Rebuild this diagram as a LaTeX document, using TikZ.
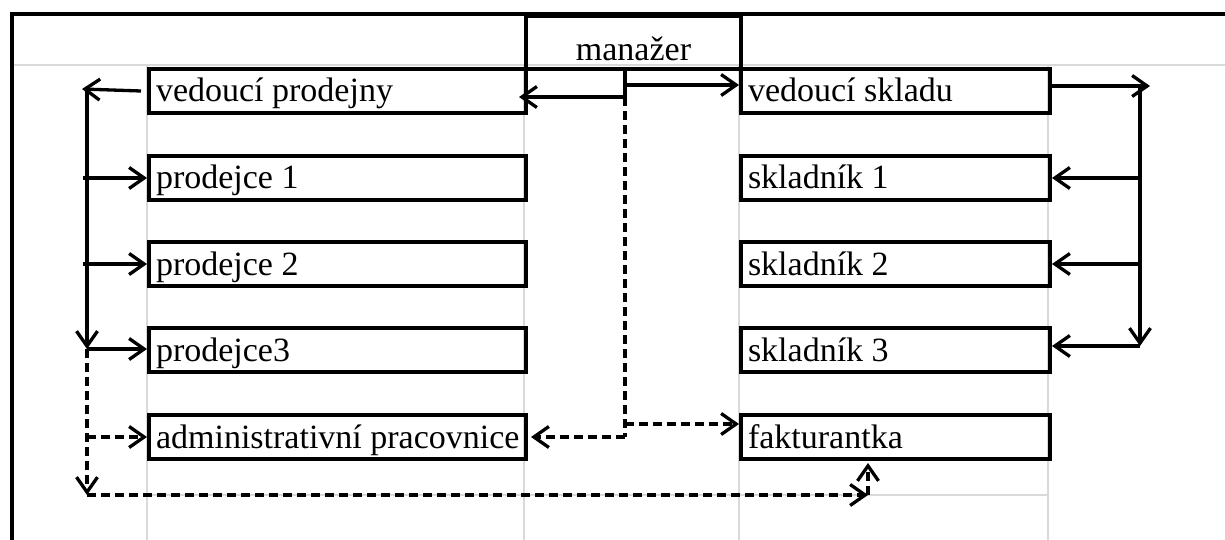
\documentclass[tikz,border=0pt]{standalone}
\usepackage{fontspec}
\setmainfont{Liberation Serif}
\usetikzlibrary{arrows.meta,calc}
\newcommand{\lbx}[1]{\makebox[363pt][l]{#1}}
\newcommand{\rbx}[1]{\makebox[295pt][l]{#1}}
\begin{document}
\begin{tikzpicture}[x=1pt,y=-1pt,
  grid/.style={draw=black!15,line width=1.6pt},
  frame/.style={line width=4.5pt},
  box/.style={draw,line width=4pt,anchor=north west,inner xsep=7pt,inner ysep=0pt,
     minimum height=44pt,text height=27pt,text depth=5pt,font=\fontsize{34}{36}\selectfont},
  arr/.style={line width=3.3pt,-{Straight Barb[length=15pt,width=21pt,line width=3.3pt]}},
  ln/.style={line width=3.3pt},
  dsh/.style={dash pattern=on 9pt off 5pt}]
\useasboundingbox (0,0) rectangle (1225,540);
% grid
\draw[grid] (12,65) -- (1225,65);
\draw[grid] (147,495) -- (1048,495);
\foreach \gx in {147,524,739,1048}{\draw[grid] (\gx,65) -- (\gx,540);}
% frame
\draw[frame] (10,14) -- (1225,14);
\draw[frame] (12,14) -- (12,540);
% manager
\node[box,minimum width=215pt,minimum height=53pt,text height=37pt,text depth=0pt,inner xsep=0pt] (man) at (524,14) {manažer};
% left boxes
\node[box] (vp) at (147,67) {\lbx{vedoucí prodejny}};
\node[box] (p1) at (147,154) {\lbx{prodejce 1}};
\node[box] (p2) at (147,240) {\lbx{prodejce 2}};
\node[box] (p3) at (147,326) {\lbx{prodejce3}};
\node[box] (ad) at (147,413) {\lbx{administrativní pracovnice}};
% right boxes
\node[box] (vs) at (739,67) {\rbx{vedoucí skladu}};
\node[box] (s1) at (739,154) {\rbx{skladník 1}};
\node[box] (s2) at (739,240) {\rbx{skladník 2}};
\node[box] (s3) at (739,326) {\rbx{skladník 3}};
\node[box] (fa) at (739,413) {\rbx{fakturantka}};
% coordinates
\coordinate (Ltip) at (82,89);
\coordinate (Lv) at (87,89);
\coordinate (Lbot) at (87,349);
\coordinate (Ldash) at (87,495);
\coordinate (Rdash) at (868,495);
\coordinate (mt) at (625,67);
\coordinate (mr) at (625,85);
\coordinate (mj) at (625,97);
\coordinate (mf) at (625,424);
\coordinate (md) at (625,437);
\coordinate (Rv) at (1140,86);
\coordinate (Rtip) at (1150,86);
\coordinate (Rbot) at (1140,346);
% left connectors
\draw[arr] ([xshift=-6pt]vp.west) -- (Ltip);
\draw[arr] (Lv) -- (Lbot);
\draw[arr] ([xshift=-4pt]Lv |- p1.west) -- (p1.west);
\draw[arr] ([xshift=-4pt]Lv |- p2.west) -- (p2.west);
\draw[arr] (Lbot) -- (p3.west |- Lbot);
\draw[arr,dsh] (Lbot) -- (Ldash);
\draw[arr,dsh] (Lv |- ad.west) -- (ad.west);
\draw[arr,dsh] (Ldash) -- (Rdash);
\draw[arr,dsh] (Rdash) -- ([yshift=-2pt]Rdash |- fa.south);
% manager connectors
\draw[ln] (mt) -- (mj);
\draw[arr] (mj) -- ($(vp.east |- mj)+(-9,0)$);
\draw[arr] (mr) -- (vs.west |- mr);
\draw[ln,dsh] (mj) -- (md);
\draw[arr,dsh] (md) -- ($(ad.east |- md)+(3,0)$);
\draw[arr,dsh] (mf) -- (fa.west |- mf);
% right connectors
\draw[arr] (vs.east |- Rtip) -- (Rtip);
\draw[arr] (Rv) -- (Rbot);
\draw[arr] (Rv |- s1.east) -- (s1.east);
\draw[arr] (Rv |- s2.east) -- (s2.east);
\draw[arr] (Rbot) -- (s3.east |- Rbot);
\end{tikzpicture}
\end{document}
